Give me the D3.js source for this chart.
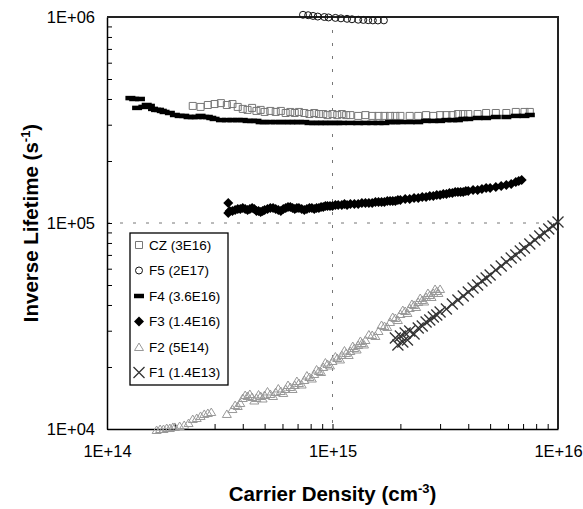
<!DOCTYPE html>
<html>
<head>
<meta charset="utf-8">
<script src="https://cdn.jsdelivr.net/npm/d3@7"></script>
<style>
    body { margin: 0; background: #fff; }
    svg { display: block; font-family: Arial, "Liberation Sans", sans-serif; }
</style>
</head>
<body>
<svg id="chart"></svg>
<script>
// carrier density (cm-3) and inverse lifetime (s-1), one pair per sample

const czX = [2.4e14, 2.6e14, 2.8e14, 3.0e14, 3.2e14, 3.4e14, 3.6e14, 3.8e14, 4.0e14, 4.2e14, 4.4e14, 4.6e14, 4.8e14, 5.0e14, 5.3e14, 5.6e14, 5.9e14, 6.2e14, 6.5e14, 6.8e14, 7.1e14, 7.5e14, 7.9e14, 8.3e14, 8.7e14, 9.1e14, 9.5e14, 1.0e15, 1.05e15, 1.1e15, 1.15e15, 1.2e15, 1.3e15, 1.4e15, 1.5e15, 1.6e15, 1.7e15, 1.8e15, 1.9e15, 2.0e15, 2.2e15, 2.4e15, 2.6e15, 2.8e15, 3.0e15, 3.2e15, 3.4e15, 3.6e15, 3.8e15, 4.0e15, 4.4e15, 4.8e15, 5.3e15, 5.9e15, 6.5e15, 7.1e15, 7.5e15]
const czY = [3.70e5, 3.66e5, 3.74e5, 3.78e5, 3.82e5, 3.74e5, 3.78e5, 3.66e5, 3.58e5, 3.54e5, 3.62e5, 3.50e5, 3.54e5, 3.46e5, 3.50e5, 3.46e5, 3.50e5, 3.42e5, 3.46e5, 3.42e5, 3.46e5, 3.42e5, 3.38e5, 3.42e5, 3.38e5, 3.38e5, 3.34e5, 3.38e5, 3.34e5, 3.38e5, 3.34e5, 3.34e5, 3.31e5, 3.34e5, 3.31e5, 3.31e5, 3.31e5, 3.31e5, 3.31e5, 3.31e5, 3.31e5, 3.31e5, 3.34e5, 3.31e5, 3.34e5, 3.34e5, 3.34e5, 3.38e5, 3.38e5, 3.38e5, 3.38e5, 3.42e5, 3.42e5, 3.42e5, 3.46e5, 3.46e5, 3.46e5]

const f5X = [7.4e14, 7.8e14, 8.2e14, 8.6e14, 9.2e14, 9.6e14, 1.03e15, 1.09e15, 1.16e15, 1.22e15, 1.30e15, 1.37e15, 1.44e15, 1.51e15, 1.59e15, 1.69e15]
const f5Y = [1.025e6, 1.02e6, 1.012e6, 1.005e6, 1.0e6, 9.95e5, 9.9e5, 9.85e5, 9.8e5, 9.75e5, 9.7e5, 9.68e5, 9.65e5, 9.63e5, 9.62e5, 9.63e5]

const f4X = [1.27e14, 1.32e14, 1.36e14, 1.40e14, 1.45e14, 1.50e14, 1.55e14, 1.60e14, 1.65e14, 1.70e14, 1.75e14, 1.80e14, 1.90e14, 2.0e14, 2.1e14, 2.2e14, 2.3e14, 2.4e14, 2.5e14, 2.6e14, 2.7e14, 2.8e14, 2.9e14, 3.0e14, 3.2e14, 3.4e14, 3.6e14, 3.8e14, 4.0e14, 4.2e14, 4.4e14, 4.6e14, 4.8e14, 5.0e14, 5.3e14, 5.6e14, 5.9e14, 6.2e14, 6.5e14, 6.8e14, 7.1e14, 7.5e14, 7.9e14, 8.3e14, 8.7e14, 9.1e14, 9.5e14, 1.0e15, 1.05e15, 1.1e15, 1.2e15, 1.3e15, 1.4e15, 1.5e15, 1.6e15, 1.7e15, 1.8e15, 1.9e15, 2.0e15, 2.2e15, 2.4e15, 2.6e15, 2.8e15, 3.0e15, 3.2e15, 3.4e15, 3.6e15, 3.8e15, 4.0e15, 4.4e15, 4.8e15, 5.3e15, 5.9e15, 6.5e15, 7.1e15, 7.5e15]
const f4Y = [4.04e5, 4.0e5, 3.62e5, 4.0e5, 3.66e5, 3.74e5, 3.70e5, 3.58e5, 3.54e5, 3.54e5, 3.50e5, 3.46e5, 3.42e5, 3.345e5, 3.31e5, 3.31e5, 3.27e5, 3.27e5, 3.27e5, 3.31e5, 3.27e5, 3.27e5, 3.235e5, 3.20e5, 3.16e5, 3.16e5, 3.16e5, 3.16e5, 3.16e5, 3.13e5, 3.13e5, 3.13e5, 3.09e5, 3.09e5, 3.09e5, 3.09e5, 3.09e5, 3.09e5, 3.09e5, 3.09e5, 3.09e5, 3.09e5, 3.06e5, 3.06e5, 3.06e5, 3.06e5, 3.06e5, 3.06e5, 3.06e5, 3.06e5, 3.06e5, 3.06e5, 3.06e5, 3.06e5, 3.06e5, 3.06e5, 3.09e5, 3.09e5, 3.09e5, 3.09e5, 3.09e5, 3.13e5, 3.13e5, 3.13e5, 3.16e5, 3.16e5, 3.16e5, 3.20e5, 3.20e5, 3.235e5, 3.235e5, 3.27e5, 3.27e5, 3.31e5, 3.31e5, 3.345e5]

const f3X = [3.45e14, 3.45e14, 3.5e14, 3.6e14, 3.7e14, 3.8e14, 3.9e14, 4.0e14, 4.1e14, 4.2e14, 4.3e14, 4.4e14, 4.5e14, 4.6e14, 4.7e14, 4.8e14, 4.9e14, 5.0e14, 5.15e14, 5.3e14, 5.45e14, 5.6e14, 5.75e14, 5.9e14, 6.05e14, 6.2e14, 6.35e14, 6.5e14, 6.65e14, 6.8e14, 6.95e14, 7.1e14, 7.3e14, 7.5e14, 7.7e14, 7.9e14, 8.1e14, 8.3e14, 8.5e14, 8.7e14, 8.9e14, 9.1e14, 9.3e14, 9.5e14, 9.75e14,
    1.0e15, 1.03e15, 1.06e15, 1.1e15, 1.13e15, 1.16e15, 1.2e15, 1.25e15, 1.3e15, 1.35e15, 1.4e15, 1.45e15, 1.5e15, 1.55e15, 1.6e15, 1.65e15, 1.7e15, 1.75e15, 1.8e15, 1.85e15, 1.9e15, 1.95e15, 2.0e15, 2.1e15, 2.2e15, 2.3e15, 2.4e15, 2.5e15, 2.6e15, 2.7e15, 2.8e15, 2.9e15, 3.0e15, 3.1e15, 3.2e15, 3.3e15, 3.4e15, 3.5e15, 3.6e15, 3.7e15, 3.8e15, 3.9e15, 4.0e15, 4.2e15, 4.4e15, 4.6e15, 4.8e15, 5.0e15, 5.3e15, 5.6e15, 5.9e15, 6.2e15, 6.5e15, 6.7e15, 6.9e15]
const f3Y = [1.25e5, 1.118e5, 1.144e5, 1.144e5, 1.157e5, 1.17e5, 1.17e5, 1.183e5, 1.17e5, 1.157e5, 1.17e5, 1.183e5, 1.17e5, 1.144e5, 1.144e5, 1.131e5, 1.144e5, 1.157e5, 1.17e5, 1.183e5, 1.183e5, 1.17e5, 1.157e5, 1.144e5, 1.17e5, 1.183e5, 1.196e5, 1.196e5, 1.183e5, 1.17e5, 1.183e5, 1.183e5, 1.17e5, 1.157e5, 1.17e5, 1.183e5, 1.183e5, 1.17e5, 1.183e5, 1.183e5, 1.196e5, 1.196e5, 1.209e5, 1.209e5, 1.209e5,
    1.209e5, 1.223e5, 1.223e5, 1.223e5, 1.236e5, 1.223e5, 1.236e5, 1.236e5, 1.236e5, 1.25e5, 1.25e5, 1.25e5, 1.25e5, 1.264e5, 1.264e5, 1.264e5, 1.264e5, 1.279e5, 1.279e5, 1.279e5, 1.279e5, 1.293e5, 1.293e5, 1.307e5, 1.307e5, 1.322e5, 1.322e5, 1.337e5, 1.337e5, 1.352e5, 1.352e5, 1.367e5, 1.367e5, 1.383e5, 1.383e5, 1.398e5, 1.398e5, 1.414e5, 1.414e5, 1.414e5, 1.414e5, 1.43e5, 1.43e5, 1.446e5, 1.446e5, 1.462e5, 1.479e5, 1.479e5, 1.496e5, 1.512e5, 1.529e5, 1.547e5, 1.581e5, 1.599e5, 1.617e5]

const f2X = [1.66e14, 1.72e14, 1.78e14, 1.84e14, 1.90e14, 1.96e14, 2.0e14, 2.1e14, 2.2e14, 2.3e14, 2.4e14, 2.5e14, 2.6e14, 2.7e14, 2.8e14, 2.9e14, 3.4e14, 3.6e14, 3.7e14, 3.8e14, 3.9e14, 4.0e14, 4.1e14, 4.2e14, 4.3e14, 4.4e14, 4.6e14, 4.8e14, 5.0e14, 5.3e14, 5.6e14, 5.9e14, 6.2e14, 6.5e14, 6.8e14, 7.1e14, 7.5e14, 7.9e14, 8.3e14, 8.7e14, 9.1e14, 9.5e14, 1.0e15, 1.05e15, 1.1e15, 1.15e15, 1.2e15, 1.25e15, 1.3e15, 1.35e15, 1.4e15, 1.5e15, 1.6e15, 1.7e15, 1.8e15, 1.9e15, 2.0e15, 2.1e15, 2.2e15, 2.3e15, 2.4e15, 2.5e15, 2.6e15, 2.7e15, 2.8e15, 2.9e15, 3.0e15,
    4.5e14, 4.7e14, 4.9e14, 5.15e14, 5.45e14, 5.75e14, 6.05e14, 6.35e14, 6.65e14, 6.95e14, 7.3e14, 7.7e14, 8.1e14, 8.5e14, 8.9e14, 9.3e14, 9.75e14, 1.03e15, 1.08e15, 1.13e15, 1.18e15, 1.23e15, 1.28e15, 1.33e15, 1.38e15, 1.45e15, 1.55e15, 1.65e15, 1.75e15, 1.85e15, 1.95e15, 2.05e15, 2.15e15, 2.25e15, 2.35e15, 2.45e15, 2.55e15, 2.65e15, 2.75e15, 2.85e15, 2.95e15]
const f2Y = [9.89e3, 1.0e4, 1.0e4, 1.011e4, 1.011e4, 1.023e4, 1.023e4, 1.034e4, 1.046e4, 1.069e4, 1.118e4, 1.131e4, 1.157e4, 1.183e4, 1.196e4, 1.209e4, 1.183e4, 1.25e4, 1.307e4, 1.293e4, 1.337e4, 1.414e4, 1.462e4, 1.446e4, 1.479e4, 1.43e4, 1.414e4, 1.446e4, 1.462e4, 1.479e4, 1.512e4, 1.529e4, 1.564e4, 1.599e4, 1.635e4, 1.672e4, 1.729e4, 1.788e4, 1.849e4, 1.912e4, 2.0e4, 2.068e4, 2.138e4, 2.211e4, 2.287e4, 2.339e4, 2.391e4, 2.473e4, 2.557e4, 2.615e4, 2.704e4, 2.86e4, 2.99e4, 3.162e4, 3.307e4, 3.458e4, 3.616e4, 3.739e4, 3.867e4, 4.0e4, 4.136e4, 4.229e4, 4.373e4, 4.472e4, 4.573e4, 4.677e4, 4.783e4,
    1.375e4, 1.471e4, 1.406e4, 1.521e4, 1.446e4, 1.573e4, 1.496e4, 1.635e4, 1.564e4, 1.710e4, 1.644e4, 1.818e4, 1.758e4, 1.945e4, 1.891e4, 2.103e4, 2.034e4, 2.249e4, 2.175e4, 2.405e4, 2.287e4, 2.528e4, 2.432e4, 2.675e4, 2.572e4, 2.876e4, 2.828e4, 3.198e4, 3.127e4, 3.497e4, 3.381e4, 3.781e4, 3.658e4, 4.045e4, 3.910e4, 4.324e4, 4.158e4, 4.573e4, 4.373e4, 4.783e4, 4.573e4]

const f1X = [1.9e15, 1.95e15, 2.0e15, 2.05e15, 2.1e15, 2.15e15, 2.2e15, 2.3e15, 2.4e15, 2.5e15, 2.6e15, 2.7e15, 2.8e15, 2.9e15, 3.0e15, 3.2e15, 3.4e15, 3.6e15, 3.8e15, 4.0e15, 4.2e15, 4.4e15, 4.6e15, 4.8e15, 5.0e15, 5.3e15, 5.6e15, 5.9e15, 6.2e15, 6.5e15, 6.8e15, 7.1e15, 7.5e15, 7.9e15, 8.3e15, 8.7e15, 9.1e15, 9.5e15, 1.0e16]
const f1Y = [2.765e4, 2.557e4, 2.828e4, 2.645e4, 2.924e4, 2.704e4, 2.99e4, 2.892e4, 3.093e4, 3.162e4, 3.307e4, 3.381e4, 3.497e4, 3.576e4, 3.698e4, 3.824e4, 4.045e4, 4.229e4, 4.422e4, 4.624e4, 4.836e4, 5.0e4, 5.229e4, 5.408e4, 5.592e4, 5.913e4, 6.183e4, 6.466e4, 6.763e4, 6.994e4, 7.313e4, 7.562e4, 7.909e4, 8.27e4, 8.648e4, 8.943e4, 9.352e4, 9.67e4, 1.011e5]

const seriesNames = ["CZ (3E16)", "F5 (2E17)", "F4 (3.6E16)", "F3 (1.4E16)", "F2 (5E14)", "F1 (1.4E13)"]
const xTicks = [1e14, 1e15, 1e16]
const yTicks = [1e4, 1e5, 1e6]

const margin = { top: 17, right: 25, bottom: 80, left: 107 }
const width = 583 - margin.left - margin.right
const height = 509 - margin.top - margin.bottom

const root = d3.select('#chart')
    .attr('width', 583)
    .attr('height', 509)
const svg = root.append('g')
    .attr('transform', `translate(${margin.left}, ${margin.top})`)

const xscl = d3.scaleLog().domain([1e14, 1e16]).range([0, width])
const yscl = d3.scaleLog().domain([1e4, 1e6]).range([height, 0])

const pts = (xs, ys) => xs.map((x, i) => ({ x, y: ys[i] }))
const fmt = d => '1E+' + String(Math.round(Math.log10(d))).padStart(2, '0')

// 1..9 within each decade, for the small ticks
const minorTicks = ticks => {
    const out = []
    for (let k = 0; k < ticks.length - 1; k++) {
        for (let m = 1; m < 10; m++) out.push(m * ticks[k])
    }
    out.push(ticks[ticks.length - 1])
    return out
}

// dotted grid at the middle decade
svg.append('line')
    .attr('x1', 0).attr('x2', width)
    .attr('y1', yscl(yTicks[1])).attr('y2', yscl(yTicks[1]))
    .attr('stroke', '#777').attr('stroke-width', 1)
    .style('stroke-dasharray', '3, 10')
svg.append('line')
    .attr('x1', xscl(xTicks[1])).attr('x2', xscl(xTicks[1]))
    .attr('y1', 0).attr('y2', height)
    .attr('stroke', '#777').attr('stroke-width', 1)
    .style('stroke-dasharray', '3, 10')

// axes with inner ticks
svg.append('g')
    .attr('class', 'yaxis')
    .call(d3.axisLeft(yscl).tickValues(minorTicks(yTicks)).tickSizeInner(-5).tickSizeOuter(0).tickFormat(''))
    .call(g => g.select('.domain').attr('stroke-width', 1.5))
svg.append('g')
    .attr('class', 'xaxis')
    .attr('transform', `translate(0, ${height})`)
    .call(d3.axisBottom(xscl).tickValues(minorTicks(xTicks)).tickSizeInner(-5).tickSizeOuter(0).tickFormat(''))
    .call(g => g.select('.domain').attr('stroke-width', 1.5))

// frame on top and right
svg.append('path')
    .attr('d', `M0,0H${width}V${height}`)
    .attr('fill', 'none')
    .attr('stroke', '#222')
    .attr('stroke-width', 2)

// tick labels
svg.append('g')
    .call(d3.axisLeft(yscl).tickValues(yTicks).tickSize(0).tickPadding(12).tickFormat(fmt))
    .call(g => g.select('.domain').remove())
    .attr('font-size', 16.5)
    .attr('font-family', 'Arial, "Liberation Sans", sans-serif')
svg.append('g')
    .attr('transform', `translate(0, ${height})`)
    .call(d3.axisBottom(xscl).tickValues(xTicks).tickSize(0).tickPadding(16).tickFormat(fmt))
    .call(g => g.select('.domain').remove())
    .attr('font-size', 16.5)
    .attr('font-family', 'Arial, "Liberation Sans", sans-serif')

// marker shapes
const marker = {
    square: (cx, cy) => `M${cx - 3.5},${cy - 3.5}h7v7h-7Z`,
    circle: (cx, cy) => `M${cx - 3.5},${cy}a3.5,3.5 0 1,0 7,0a3.5,3.5 0 1,0 -7,0`,
    dash: (cx, cy) => `M${cx - 5},${cy - 2.25}h10v4.5h-10Z`,
    diamond: (cx, cy) => `M${cx},${cy - 5}L${cx + 5},${cy}L${cx},${cy + 5}L${cx - 5},${cy}Z`,
    triangle: (cx, cy) => `M${cx},${cy - 4}L${cx + 4.5},${cy + 3.5}L${cx - 4.5},${cy + 3.5}Z`,
    cross: (cx, cy) => `M${cx - 5.5},${cy - 5.5}L${cx + 5.5},${cy + 5.5}M${cx - 5.5},${cy + 5.5}L${cx + 5.5},${cy - 5.5}`,
}

const series = [
    { name: seriesNames[0], data: pts(czX, czY), shape: 'square', fill: 'none', stroke: '#777', sw: 1 },
    { name: seriesNames[1], data: pts(f5X, f5Y), shape: 'circle', fill: 'none', stroke: '#111', sw: 1 },
    { name: seriesNames[2], data: pts(f4X, f4Y), shape: 'dash', fill: '#000', stroke: 'none', sw: 0 },
    { name: seriesNames[3], data: pts(f3X, f3Y), shape: 'diamond', fill: '#000', stroke: 'none', sw: 0 },
    { name: seriesNames[4], data: pts(f2X, f2Y), shape: 'triangle', fill: 'none', stroke: '#999', sw: 1 },
    { name: seriesNames[5], data: pts(f1X, f1Y), shape: 'cross', fill: 'none', stroke: '#333', sw: 1.3 },
]

series.forEach((s, k) => {
    svg.selectAll(`.s${k}`)
        .data(s.data)
        .enter().append('path')
        .attr('class', `s${k}`)
        .attr('d', d => marker[s.shape](xscl(d.x), yscl(d.y)))
        .attr('fill', s.fill)
        .attr('stroke', s.stroke)
        .attr('stroke-width', s.sw)
})

// legend
const legend = root.append('g')
    .attr('transform', 'translate(130, 233)')
legend.append('rect')
    .attr('width', 98).attr('height', 152)
    .attr('fill', '#fff')
    .attr('stroke', '#000')
    .attr('stroke-width', 1.3)
const rows = legend.selectAll('.row')
    .data(series)
    .enter().append('g')
    .attr('class', 'row')
    .attr('transform', (d, i) => `translate(0, ${12 + i * 25.5})`)
rows.append('path')
    .attr('d', d => marker[d.shape](9, 0))
    .attr('fill', d => d.fill)
    .attr('stroke', d => d.stroke)
    .attr('stroke-width', d => d.sw)
rows.append('text')
    .attr('x', 19)
    .attr('dy', '0.36em')
    .attr('font-size', 13.5)
    .text(d => d.name)

// axis titles
const xTitle = root.append('text')
    .attr('x', margin.left + width / 2)
    .attr('y', 501)
    .attr('text-anchor', 'middle')
    .attr('font-weight', 'bold')
    .attr('font-size', 20.5)
xTitle.append('tspan').text('Carrier Density (cm')
xTitle.append('tspan').attr('dy', -8).attr('font-size', 13).text('-3')
xTitle.append('tspan').attr('dy', 8).text(')')

const yTitle = root.append('text')
    .attr('transform', `translate(38, ${margin.top + height / 2}) rotate(-90)`)
    .attr('text-anchor', 'middle')
    .attr('font-weight', 'bold')
    .attr('font-size', 20.5)
yTitle.append('tspan').text('Inverse Lifetime (s')
yTitle.append('tspan').attr('dy', -8).attr('font-size', 13).text('-1')
yTitle.append('tspan').attr('dy', 8).text(')')
</script>
</body>
</html>
